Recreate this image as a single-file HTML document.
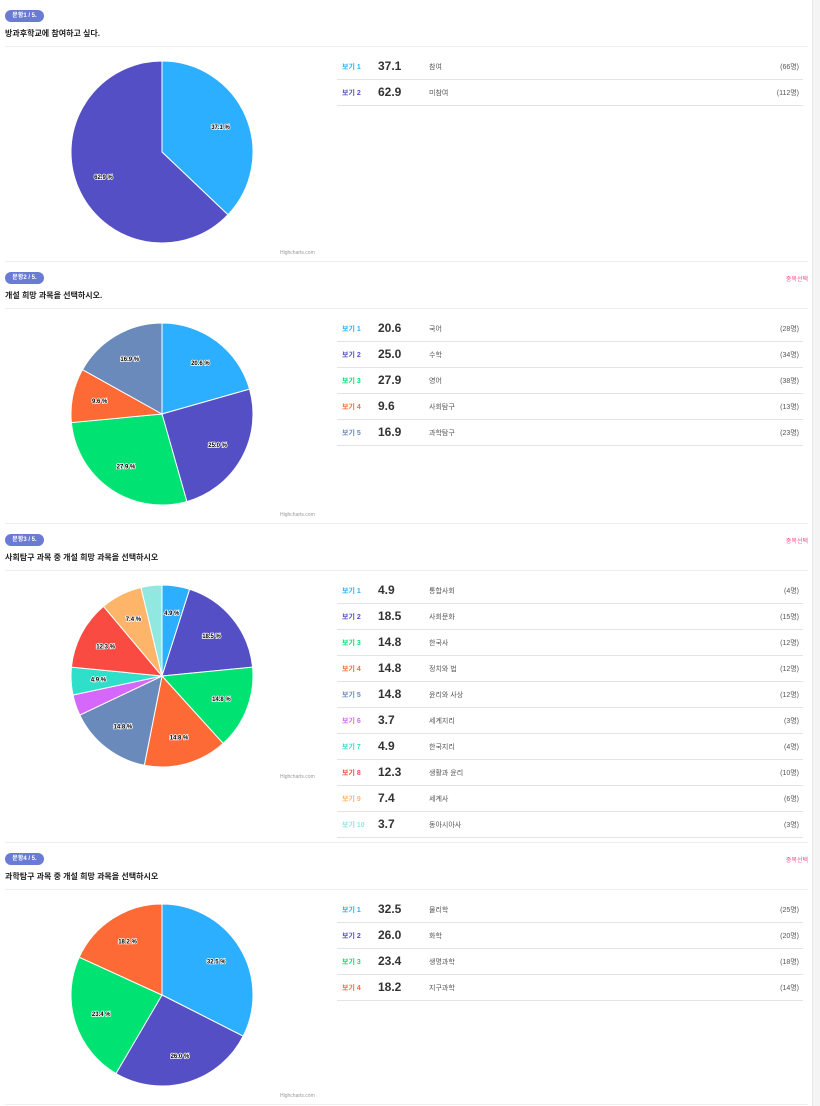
<!DOCTYPE html>
<html><head><meta charset="utf-8">
<style>
body{margin:0;width:820px;height:1106px;background:#fff;font-family:"Liberation Sans","Noto Sans CJK KR",sans-serif;position:relative;overflow:hidden}
.strip{position:absolute;left:812px;top:0;width:8px;height:1106px;background:#f4f4f4;border-left:1px solid #e6e6e6}
.sec{position:absolute;left:0;width:810px}
.badge{position:absolute;left:5px;top:10px;width:39px;height:12px;border-radius:6px;background:#6a7bd3;color:#fff;font-size:6px;font-weight:bold;text-align:center;line-height:12px}
.multi{position:absolute;right:2px;top:12px;font-size:6px;color:#f0508a}
.title{position:absolute;left:5px;top:28px;font-size:8px;font-weight:bold;color:#222}
.sep{position:absolute;left:5px;right:2px;top:46px;border-top:1px solid #eee}
.bottom{position:absolute;left:5px;right:2px;border-top:1px solid #eee}
.hc{position:absolute;left:280px;font-size:5px;color:#999}
.row{position:absolute;left:337px;width:466px;height:26px;border-bottom:1px solid #e4e4e4}
.row .lab{position:absolute;left:5px;top:9px;font-size:7px;font-weight:bold}
.row .val{position:absolute;left:41px;top:6px;font-size:12px;font-weight:bold;color:#333}
.row .txt{position:absolute;left:92px;top:9px;font-size:7px;color:#555}
.row .cnt{position:absolute;right:4px;top:9px;font-size:7px;color:#555}
svg{position:absolute;left:0;top:0}
</style></head><body>
<div class="strip"></div>
<script>
const colors=["#2caffe","#544fc5","#00e272","#fe6a35","#6b8abc","#d568fb","#2ee0ca","#fa4b42","#feb56a","#91e8e1"];
const titles=["방과후학교에 참여하고 싶다.","개설 희망 과목을 선택하시오.","사회탐구 과목 중 개설 희망 과목을 선택하시오","과학탐구 과목 중 개설 희망 과목을 선택하시오"];
const multiFlags=[false,true,true,true];
const values1=[37.1,62.9];
const values2=[20.6,25.0,27.9,9.6,16.9];
const values3=[4.9,18.5,14.8,14.8,14.8,3.7,4.9,12.3,7.4,3.7];
const values4=[32.5,26.0,23.4,18.2];
const names1=["참여","미참여"];
const names2=["국어","수학","영어","사회탐구","과학탐구"];
const names3=["통합사회","사회문화","한국사","정치와 법","윤리와 사상","세계지리","한국지리","생활과 윤리","세계사","동아시아사"];
const names4=["물리학","화학","생명과학","지구과학"];
const counts1=[66,112];
const counts2=[28,34,38,13,23];
const counts3=[4,15,12,12,12,3,4,10,6,3];
const counts4=[25,20,18,14];
const allValues=[values1,values2,values3,values4];
const allNames=[names1,names2,names3,names4];
const allCounts=[counts1,counts2,counts3,counts4];
const NS="http://www.w3.org/2000/svg";
let secTop=0;
allValues.forEach((vals,qi)=>{
  const sec=document.createElement('div');
  sec.className='sec';
  
  
  const h=Math.max(262,46+vals.length*26+13);
  sec.style.top=secTop+'px';sec.style.height=h+'px';
  sec.innerHTML='<div class="badge">문항'+(qi+1)+' / 5.</div>'+
    (multiFlags[qi]?'<div class="multi">중복선택</div>':'')+
    '<div class="title">'+titles[qi]+'</div><div class="sep"></div>'+
    '<div class="hc" style="top:250px">Highcharts.com</div>';
  const svg=document.createElementNS(NS,'svg');
  svg.setAttribute('width','330');svg.setAttribute('height','262');
  
  
  const cx=162,cy=152,r=91;
  const total=vals.reduce((a,b)=>a+b,0);
  let a=-Math.PI/2;
  vals.forEach((v,i)=>{
    const sw=v/total*2*Math.PI,a2=a+sw;
    const p=document.createElementNS(NS,'path');
    const x1=cx+r*Math.cos(a),y1=cy+r*Math.sin(a),x2=cx+r*Math.cos(a2),y2=cy+r*Math.sin(a2);
    p.setAttribute('d',`M${cx},${cy}L${x1},${y1}A${r},${r} 0 ${sw>Math.PI?1:0} 1 ${x2},${y2}Z`);
    p.setAttribute('fill',colors[i]);p.setAttribute('stroke','#fff');p.setAttribute('stroke-width','1');
    
    
    svg.appendChild(p);
    a=a2;
  });
  a=-Math.PI/2;
  vals.forEach((v,i)=>{
    const sw=v/total*2*Math.PI,m=a+sw/2;a+=sw;
    if(v<4.5)return;
    const t=document.createElementNS(NS,'text');
    t.setAttribute('x',cx+r*0.7*Math.cos(m));t.setAttribute('y',cy+r*0.7*Math.sin(m)+2);
    t.setAttribute('text-anchor','middle');t.setAttribute('font-size','6');t.setAttribute('font-weight','bold');
    t.setAttribute('fill','#000');t.setAttribute('stroke','#fff');t.setAttribute('stroke-width','1.5');t.setAttribute('paint-order','stroke');
    
    
    t.textContent=v.toFixed(1)+' %';
    svg.appendChild(t);
  });
  sec.appendChild(svg);
  vals.forEach((v,i)=>{
    const row=document.createElement('div');
    row.className='row';
    
    
    row.style.top=(53+i*26)+'px';
    row.innerHTML='<span class="lab" style="color:'+colors[i]+'">보기 '+(i+1)+'</span><span class="val">'+v.toFixed(1)+'</span><span class="txt">'+allNames[qi][i]+'</span><span class="cnt">('+allCounts[qi][i]+'명)</span>';
    sec.appendChild(row);
  });
  const b=document.createElement('div');
  b.className='bottom';b.style.top=(h-1)+'px';
  
  
  sec.appendChild(b);
  document.body.appendChild(sec);
  secTop+=h;
});
</script>
</body></html>
